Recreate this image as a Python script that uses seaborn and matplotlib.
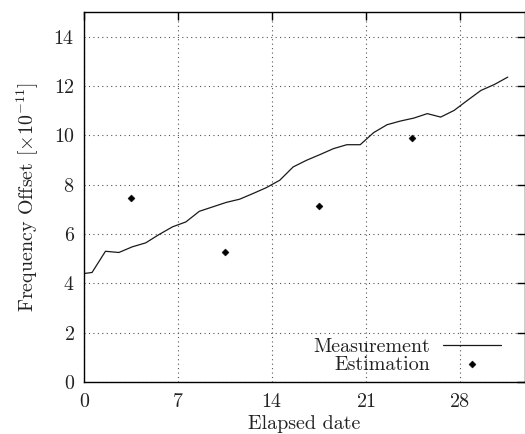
import numpy as np
import pandas as pd
import matplotlib
matplotlib.use("Agg")
import matplotlib.pyplot as plt
import seaborn as sns

# Data
meas_days = [0.0] + [0.57 + k for k in range(32)]
meas_vals = [4.40, 4.44, 5.30, 5.25, 5.48, 5.64, 5.98, 6.29, 6.49, 6.92, 7.10,
             7.28, 7.41, 7.64, 7.88, 8.18, 8.72, 8.99, 9.22, 9.46, 9.62, 9.62,
             10.11, 10.43, 10.58, 10.70, 10.88, 10.74, 11.01, 11.42, 11.82,
             12.06, 12.36]
est_days = [3.45, 10.45, 17.5, 24.45]
est_vals = [7.44, 5.28, 7.14, 9.91]
x_ticks = [0, 7, 14, 21, 28]
y_ticks = [0, 2, 4, 6, 8, 10, 12, 14]

sns.set_style("white")
plt.rcParams["font.family"] = ["serif"]
plt.rcParams["font.serif"] = ["cmr10", "DejaVu Serif"]
plt.rcParams["mathtext.fontset"] = "cm"
plt.rcParams["axes.formatter.use_mathtext"] = True

FS = 14.4
TXT = "#222222"

fig = plt.figure(figsize=(5.25, 4.34), dpi=100)
ax = fig.add_axes([84.4 / 525, 52 / 434, (524.5 - 84.4) / 525, (382 - 12) / 434])

meas = pd.DataFrame({"day": meas_days, "val": meas_vals})
est = pd.DataFrame({"day": est_days, "val": est_vals})

sns.lineplot(data=meas, x="day", y="val", ax=ax, color="#1a1a1a", lw=0.9,
             label="Measurement")
sns.scatterplot(data=est, x="day", y="val", ax=ax, color="black", marker="D",
                s=13, edgecolor="black", linewidth=0.3, label="Estimation")

ax.set_xlim(0, 32.82)
ax.set_ylim(0, 15)
ax.set_xticks(x_ticks)
ax.set_yticks(y_ticks)
ax.grid(True, linestyle=(0, (1, 3)), color="#555555", lw=0.8)
ax.tick_params(direction="in", length=6, width=1.0, top=True, right=True,
               labelsize=FS, colors="black", labelcolor=TXT)
ax.tick_params(axis="x", pad=8)
ax.tick_params(axis="y", pad=7)
for s in ax.spines.values():
    s.set_color("black")
    s.set_linewidth(1.0)

ax.set_xlabel("Elapsed date", fontsize=FS, labelpad=2.5, color=TXT)
ax.set_ylabel(r"Frequency Offset [$\times10^{-11}$]", fontsize=FS, labelpad=9,
              color=TXT)

leg = ax.legend(loc="lower right", frameon=False, markerfirst=False,
                fontsize=FS, handlelength=2.9, borderaxespad=0.0,
                borderpad=0.2, labelspacing=0.0, handletextpad=0.65,
                bbox_to_anchor=(0.955, 0.012))
for t in leg.get_texts():
    t.set_color(TXT)

fig.savefig("out.png", dpi=100)
